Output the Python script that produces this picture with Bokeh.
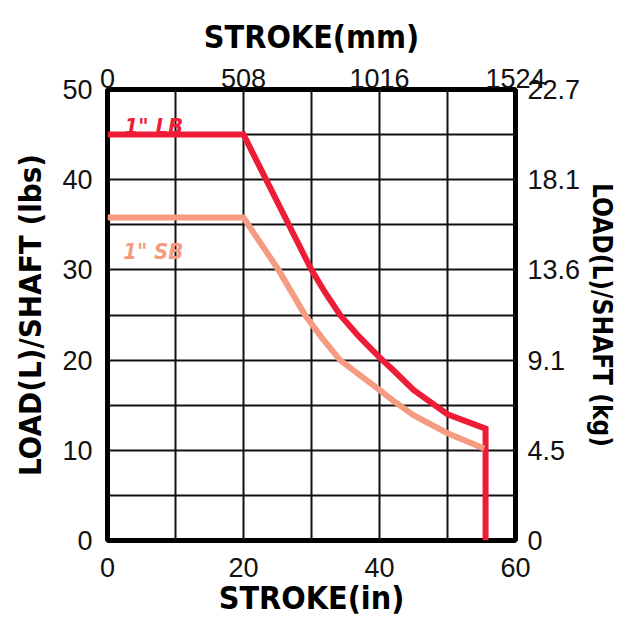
from bokeh.plotting import figure
from bokeh.models import Range1d, LinearAxis, FixedTicker
from bokeh.core.properties import value
from bokeh.embed import file_html
from bokeh.resources import INLINE

# ---- data ----
lb_stroke_in = [0, 20, 30, 32, 34.2, 37, 40, 42, 45, 50, 55.6, 55.6]
lb_load_lbs = [45, 45, 30, 27.5, 25, 22.6, 20.3, 18.9, 16.7, 14.0, 12.4, 0]

sb_stroke_in = [0, 20, 25.15, 29.05, 31.5, 34.2, 37, 40, 42, 45, 50, 55.4]
sb_load_lbs = [35.8, 35.8, 30, 25, 22.5, 20, 18.4, 16.7, 15.5, 13.9, 11.9, 10.2]

in_ticks = [0, 20, 40, 60]
mm_labels = ["0", "508", "1016", "1524"]
lbs_ticks = [0, 10, 20, 30, 40, 50]
kg_labels = ["0", "4.5", "9.1", "13.6", "18.1", "22.7"]
x_grid_ticks = [10, 20, 30, 40, 50]
y_grid_ticks = [5, 10, 15, 20, 25, 30, 35, 40, 45]

series_names = ['1" LB', '1" SB']
series_colors = ["#EE1C36", "#F59B82"]
label_x = [2.5, 2.3]
label_y = [45.9, 32.0]

TICK_FONT = "Liberation Sans"
TITLE_FONT = "DejaVu Sans Condensed, Liberation Sans"

p = figure(
    width=630, height=626,
    x_range=Range1d(0, 60), y_range=Range1d(0, 50),
    min_border_left=107, min_border_right=115,
    min_border_top=89, min_border_bottom=86,
    output_backend="svg", toolbar_location=None,
    background_fill_color="white", border_fill_color="white",
)
p.outline_line_color = "black"
p.outline_line_width = 5

# grids
p.xgrid.ticker = FixedTicker(ticks=x_grid_ticks)
p.ygrid.ticker = FixedTicker(ticks=y_grid_ticks)
for g in (p.xgrid, p.ygrid):
    g.grid_line_color = "#111111"
    g.grid_line_width = 2

def style_axis(ax, standoff, title_size, title_standoff):
    ax.axis_line_color = None
    ax.major_tick_line_color = None
    ax.minor_tick_line_color = None
    ax.major_tick_out = 0
    ax.major_tick_in = 0
    ax.major_label_text_font = TICK_FONT
    ax.major_label_text_font_size = "27px"
    ax.major_label_text_color = "#111111"
    ax.major_label_standoff = standoff
    ax.axis_label_text_font = TITLE_FONT
    ax.axis_label_text_font_style = "bold"
    ax.axis_label_text_font_size = title_size
    ax.axis_label_text_color = "black"
    ax.axis_label_standoff = title_standoff

# bottom axis (inches)
bx = p.xaxis[0]
bx.ticker = FixedTicker(ticks=in_ticks)
bx.axis_label = "STROKE(in)"
style_axis(bx, 17, "32px", -1)

# left axis (lbs)
ly = p.yaxis[0]
ly.ticker = FixedTicker(ticks=lbs_ticks)
ly.axis_label = "LOAD(L)/SHAFT (lbs)"
style_axis(ly, 15, "31px", 11)

# top axis (mm)
top = LinearAxis(ticker=FixedTicker(ticks=in_ticks),
                 major_label_overrides={t: s for t, s in zip(in_ticks, mm_labels)},
                 axis_label="STROKE(mm)")
style_axis(top, 2, "32px", 10)
p.add_layout(top, "above")

# right axis (kg)
right = LinearAxis(ticker=FixedTicker(ticks=lbs_ticks),
                   major_label_overrides={t: s for t, s in zip(lbs_ticks, kg_labels)},
                   axis_label="LOAD(L)/SHAFT (kg)")
style_axis(right, 12, "26px", 4)
right.axis_label_orientation = "vertical"
p.add_layout(right, "right")

# curves
p.line(lb_stroke_in, lb_load_lbs, line_color=series_colors[0], line_width=6, line_join="miter")
p.line(sb_stroke_in, sb_load_lbs, line_color=series_colors[1], line_width=6, line_join="miter")

# curve labels
for name, c, lx, lyv in zip(series_names, series_colors, label_x, label_y):
    p.text(x=[lx], y=[lyv], text=[name], text_color=c,
           text_font=value(TITLE_FONT), text_font_style="bold italic",
           text_font_size="22px", text_baseline="alphabetic", text_align="left")

open("out.html", "w").write(file_html(p, INLINE))
